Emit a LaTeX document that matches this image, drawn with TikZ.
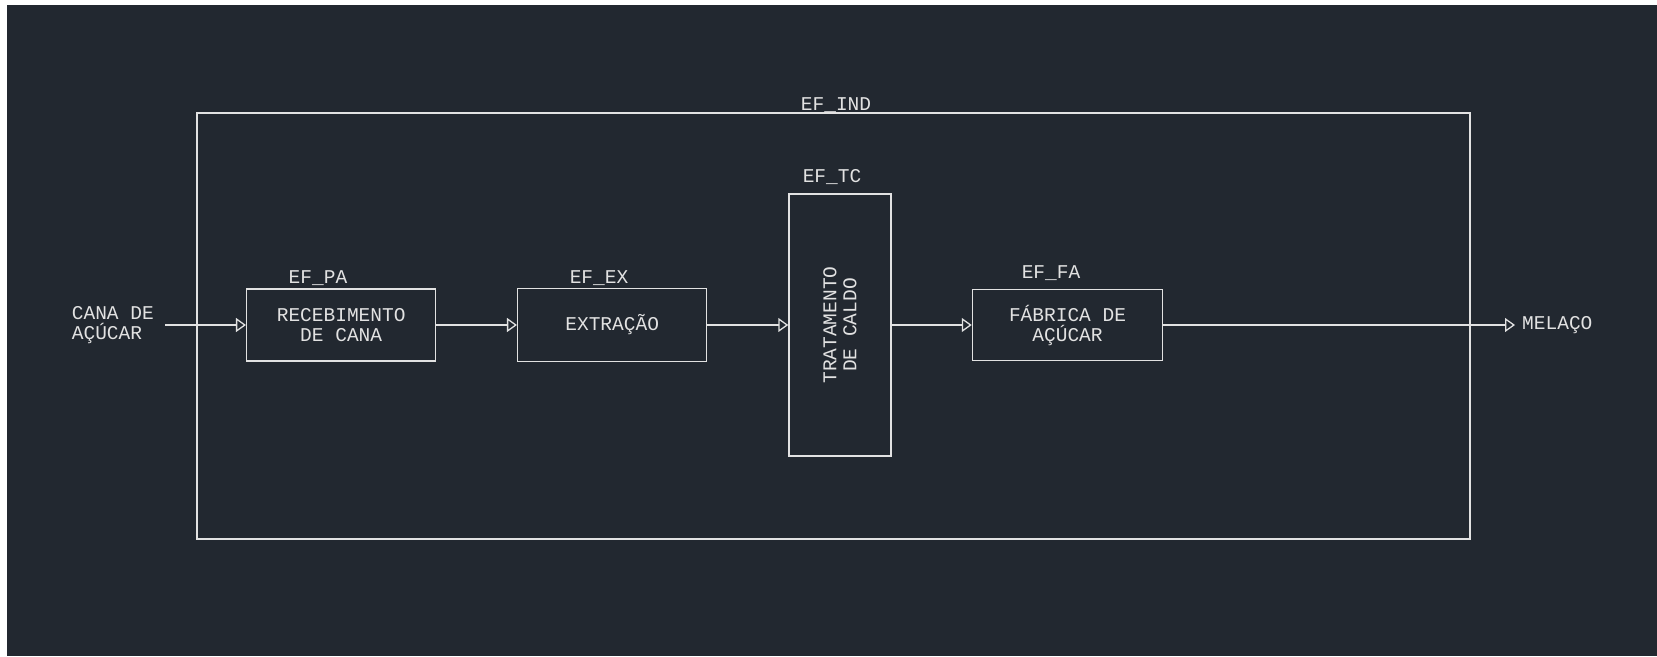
\documentclass[tikz,border=0pt]{standalone}
\usepackage{fontspec}
\setmonofont{Liberation Mono}
\usepackage{xcolor}
\definecolor{efbg}{HTML}{222830}
\definecolor{efink}{HTML}{E2E2E2}
\usetikzlibrary{arrows.meta,positioning}
\newcommand{\efsize}{\ttfamily\fontsize{19.5}{20}\selectfont}
\tikzset{
  efbox/.style={draw=efink,line width=1.5pt,inner sep=0pt,align=center,font=\efsize,text=efink},
  eftext/.style={inner sep=0pt,align=center,font=\efsize,text=efink},
  eflabel/.style={inner sep=0pt,anchor=base,font=\efsize,text=efink},
  efflow/.style={-{Triangle[open,length=10pt,width=14pt,line width=1.3pt]},draw=efink,line width=1.5pt},
}
\begin{document}
\begin{tikzpicture}[x=1pt,y=-1pt]
 % sheet
\fill[white] (0,0) rectangle (1657,656);
\fill[efbg] (7,5) rectangle (1657,656);
\useasboundingbox (0,0) rectangle (1657,656);
 % blocks
\node[efbox,minimum width=1273pt,minimum height=426pt] (ind) at (833.3,326) {};
\node[efbox,minimum width=189pt,minimum height=72pt] (pa) at (341.2,325) {RECEBIMENTO\\DE CANA};
\node[efbox,minimum width=189pt,minimum height=73pt] (ex) at (612.2,325) {EXTRAÇÃO};
\node[efbox,minimum width=102pt,minimum height=262pt] (tc) at (840,325) {};
\node[eftext,rotate=90] (tctext) at (tc.center) {TRATAMENTO\\DE CALDO};
\node[efbox,minimum width=190pt,minimum height=71pt] (fa) at (1067.5,325) {FÁBRICA DE\\AÇÚCAR};
 % labels
\node[eflabel] (lind) at (836,110) {EF\_IND};
\node[eflabel] (lpa) at (318,283.3) {EF\_PA};
\node[eflabel] (lex) at (599,283.3) {EF\_EX};
\node[eflabel] (ltc) at (832,182.7) {EF\_TC};
\node[eflabel] (lfa) at (1051,278.3) {EF\_FA};
 % in / out
\node[eftext,anchor=east,inner xsep=11pt,align=left] (cana) at (165,325) {CANA DE\\AÇÚCAR};
\node[eftext,anchor=west,inner xsep=7pt] (mel) at (1515,325) {MELAÇO};
 % flow
\draw[efflow] (cana.east) -- (pa.west);
\draw[efflow] (pa.east) -- (ex.west);
\draw[efflow] (ex.east) -- (tc.west);
\draw[efflow] (tc.east) -- (fa.west);
\draw[efflow] (fa.east) -- (mel.west);
\end{tikzpicture}
\end{document}
